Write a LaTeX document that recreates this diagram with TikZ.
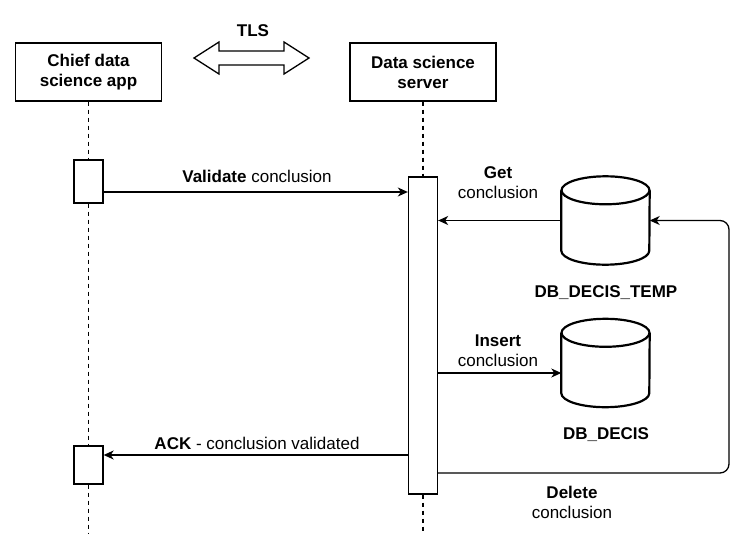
\documentclass[tikz,border=0pt]{standalone}
\usepackage{fontspec}
\setmainfont{Liberation Sans}
\usetikzlibrary{arrows.meta}
\newcommand{\txt}{\fontsize{17}{20}\selectfont}
\tikzset{
  actor/.style={draw, line width=1.4pt, minimum width=146pt, minimum height=58pt, inner sep=0pt, font=\txt\bfseries, align=center},
  act/.style={draw, line width=1.3pt, fill=white, minimum width=29pt, inner sep=0pt},
  db/.style={minimum width=88pt, minimum height=88pt, inner sep=0pt},
  dbline/.style={line width=2.2pt},
  lifeline/.style={line width=1.3pt, dash pattern=on 4pt off 4pt},
  msg/.style={line width=1.3pt, -{Stealth[length=10pt,width=9pt,inset=3pt]}},
  lbl/.style={align=center, font=\txt}
}
\begin{document}
\begin{tikzpicture}[x=1pt, y=-1pt, font=\txt]

      \useasboundingbox (0,0) rectangle (756,541);

      % participants
      \node[actor] (app) at (88.5,72) {Chief data\\science app};
      \node[actor] (srv) at (423,72)  {Data science\\server};

      % TLS arrow
      \node[font=\txt\bfseries] (tls) at (253,31) {TLS};
      \draw[line width=1.3pt] (194,58) -- (219,42) -- (219,51) -- (284,51) -- (284,42)
        -- (309,58) -- (284,74) -- (284,65) -- (219,65) -- (219,74) -- cycle;

      % activations
      \begin{scope}[every node/.style={act}]
        \node[minimum height=43pt]  (act1) at (88.5,181.5) {};
        \node[minimum height=317pt] (act2) at (423,335.5)  {};
        \node[minimum height=38pt]  (act3) at (88.5,465)   {};
      \end{scope}

      % databases
      \node[db] (temp) at (605.5,220.5) {};
      \node[db] (main) at (605.5,363) {};
      \foreach \n in {temp,main} {
        \draw[dbline] ([yshift=-14pt]\n.north) ellipse [x radius=44pt, y radius=14pt];
        \draw[dbline] ([yshift=-14pt]\n.north west) -- ([yshift=14pt]\n.south west)
          arc [start angle=180, end angle=360, x radius=44pt, y radius=14pt]
          -- ([yshift=-14pt]\n.north east);
      }
      \node[font=\txt\bfseries] (templbl) at (606,293) {DB\_DECIS\_TEMP};
      \node[font=\txt\bfseries] (mainlbl) at (606,435) {DB\_DECIS};

      % lifelines
      \coordinate (append) at (88.5,533);
      \coordinate (srvend) at (423,533);
      \coordinate (loop)   at (729,473);
      \begin{scope}[every path/.style={lifeline}]
        \draw (app.south) -- (act1.north);
        \draw (act1.south) -- (act3.north);
        \draw (act3.south) -- (append);
        \draw (srv.south) -- (act2.north);
        \draw (act2.south) -- (srvend);
      \end{scope}

      % messages
      \draw[msg] (act1.east |- 0,192) -- (act2.west |- 0,192);
      \draw[msg] (temp.west) -- (act2.east |- temp.west);
      \draw[msg] (act2.east |- 0,373) -- (main.west |- 0,373);
      \draw[msg] (act2.west |- 0,455) -- (act3.east |- 0,455);
      \draw[msg, rounded corners=9pt] (act2.east |- loop) -- (loop) |- (temp.east);

      % labels
      \begin{scope}[every node/.style={lbl}]
        \node (vlbl) at (257,176) {\textbf{Validate} conclusion};
        \node (glbl) at (498,183) {\textbf{Get}\\conclusion};
        \node (ilbl) at (498,351) {\textbf{Insert}\\conclusion};
        \node (albl) at (257,443) {\textbf{ACK} - conclusion validated};
        \node (dlbl) at (572,502) {\textbf{Delete}\\conclusion};
      \end{scope}

    \end{tikzpicture}
\end{document}
